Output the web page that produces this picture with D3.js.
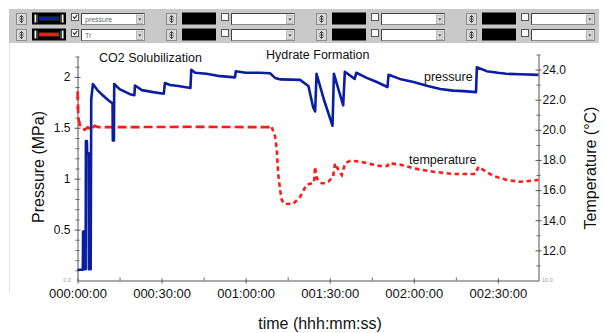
<!DOCTYPE html>
<html><head><meta charset="utf-8">
<script src="https://cdn.jsdelivr.net/npm/d3@7"></script>
<style>
html,body{margin:0;padding:0;background:#fff;}
svg{display:block;font-family:"Liberation Sans",Arial,sans-serif;}
</style></head><body>
<svg id="chart" width="605" height="333"></svg>
<script>
// Elapsed time in minutes and reactor pressure (MPa)
const pressureTime = [0,1.9,2.0,2.4,2.5,2.9,3.0,3.35,3.45,3.95,4.05,4.7,4.9,5.5,7.1,9,11,12.5,12.6,13.0,13.1,15,18.7,20.3,20.5,23,27,30.8,31.2,33,36,40.3,40.6,42,46,50,56.2,56.5,60,65,68.7,70.5,72.5,79.4,82.4,84.1,84.8,85.3,88,91,91.5,94.8,95.4,98.9,99.5,103.2,106.8,110.6,111,115,119.9,125,129.4,134,137.7,142.2,142.5,146,150,153,158,164.5];
const pressureMPa = [0.105,0.105,0.48,0.48,0.11,0.11,1.37,1.37,1.25,1.25,0.11,0.11,1.78,1.93,1.87,1.82,1.77,1.74,1.375,1.375,1.93,1.88,1.83,1.82,1.915,1.87,1.85,1.835,1.94,1.92,1.91,1.89,2.07,2.04,2.03,2.01,1.995,2.055,2.04,2.04,2.035,1.99,1.975,1.97,1.91,1.70,1.66,2.03,1.77,1.52,2.03,1.72,2.05,1.98,2.04,1.99,1.95,1.90,2.02,1.98,1.95,1.91,1.88,1.865,1.86,1.85,2.095,2.056,2.04,2.03,2.025,2.02];

// Elapsed time in minutes and reactor temperature (°C)
const temperatureTime = [0,0.15,0.3,1.0,2.6,3.7,4.9,6.1,7.5,20,40,60,69.3,70.5,71.1,71.6,72.3,72.9,74,77,79.4,80.5,81.5,83.6,84.4,84.75,85.4,87.1,88.5,89.5,91.2,91.9,93.4,94.3,95.5,97.3,100.8,104,108,110.6,111,115,120,127,134,141.9,143.1,144.9,148.4,153.2,158,164.5];
const temperatureC = [22.55,21.8,20.8,20.2,20.0,20.18,20.0,20.27,20.18,20.18,20.2,20.18,20.18,19.55,18.67,17.1,16.0,15.33,15.07,15.1,15.55,15.9,16.33,16.45,16.5,17.55,16.78,16.45,16.45,16.55,16.9,17.78,17.22,17.0,17.78,17.95,17.89,17.75,17.6,17.6,17.78,17.7,17.44,17.22,17.07,17.07,17.55,17.33,16.93,16.67,16.55,16.67];

const pressureTicks = [0.5, 1, 1.5, 2];
const pressureMinorTicks = [0.1,0.2,0.3,0.4,0.6,0.7,0.8,0.9,1.1,1.2,1.3,1.4,1.6,1.7,1.8,1.9,2.1,2.2];
const temperatureTicks = [12, 14, 16, 18, 20, 22, 24];
const temperatureMinorTicks = [11, 13, 15, 17, 19, 21, 23, 25];
const timeTicks = [0, 30, 60, 90, 120, 150];
const timeMinorTicks = [15, 45, 75, 105, 135, 165];
const timeTickLabels = ["000:00:00","000:30:00","001:00:00","001:30:00","002:00:00","002:30:00"];

// Trace selector strip: channel names and pen colours per slot
const channelNames = [["pressure","Tr"],["",""],["",""],["",""]];
const channelColors = [["#0b1ea0","#ff1a1a"],[null,null],[null,null],[null,null]];

const svg = d3.select("#chart");
svg.append("rect").attr("width",605).attr("height",333).attr("fill","#fff");

const x = d3.scaleLinear([0, 164.5], [77.5, 538.5]);
const yP = d3.scaleLinear([0, 2.2], [280.5, 56.5]);
const yT = d3.scaleLinear([10, 25], [280.5, 54.5]);

// ---------- selector strip ----------
const bar = svg.append("g");
bar.append("rect").attr("x",9).attr("y",9).attr("width",590).attr("height",34).attr("fill","#c9c9c9");
svg.append("line").attr("x1",9.5).attr("x2",9.5).attr("y1",43).attr("y2",293).attr("stroke","#e2e2e2");

channelNames.forEach((pair, g) => {
  pair.forEach((name, r) => {
    const gx = 150 * g, ry = 13 + 16 * r;
    const grp = bar.append("g").attr("transform", `translate(${gx},${ry})`);
    // spin button
    grp.append("rect").attr("x",16.5).attr("y",0.5).attr("width",10).attr("height",11)
      .attr("fill","#dadada").attr("stroke","#8c8c8c");
    grp.append("path").attr("d","M21.5,2.5V9.5M19.5,4.5L21.5,2.5L23.5,4.5M19.5,7.5L21.5,9.5L23.5,7.5M19.5,6H23.5")
      .attr("fill","none").attr("stroke","#333").attr("stroke-width",0.9);
    // pen swatch
    grp.append("rect").attr("x",32).attr("y",-0.5).attr("width",34).attr("height",12).attr("fill","#000");
    const col = channelColors[g][r];
    if (col) {
      grp.append("rect").attr("x",34.5).attr("y",1.5).attr("width",1.5).attr("height",8).attr("fill","#fff");
      grp.append("rect").attr("x",36.5).attr("y",1.5).attr("width",1).attr("height",8).attr("fill","#888");
      grp.append("rect").attr("x",39).attr("y",3.5).attr("width",20).attr("height",4).attr("fill",col).attr("stroke","#222").attr("stroke-width",0.6);
      grp.append("rect").attr("x",60.5).attr("y",1.5).attr("width",1).attr("height",8).attr("fill","#888");
      grp.append("rect").attr("x",62).attr("y",1.5).attr("width",1.5).attr("height",8).attr("fill","#fff");
    }
    // checkbox
    grp.append("rect").attr("x",71.5).attr("y",0.5).attr("width",7).attr("height",7)
      .attr("fill","#fff").attr("stroke","#555");
    if (name) {
      grp.append("path").attr("d","M73,3.5L74.6,5.5L77.2,1.8").attr("fill","none").attr("stroke","#222").attr("stroke-width",1.1);
    }
    // drop-down field
    grp.append("rect").attr("x",81.5).attr("y",0.5).attr("width",63).attr("height",11)
      .attr("fill","#fff").attr("stroke","#8a8a8a");
    grp.append("path").attr("d","M81.5,11.5V0.5H144.5").attr("fill","none").attr("stroke","#444");
    grp.append("rect").attr("x",136.5).attr("y",2).attr("width",6.5).attr("height",8.5)
      .attr("fill","#d8d8d8").attr("stroke","#999").attr("stroke-width",0.6);
    grp.append("path").attr("d","M138.3,5.5H141.3L139.8,7.5Z").attr("fill","#333");
    if (name) {
      grp.append("text").attr("x",85).attr("y",8.5).attr("font-size",7).attr("fill","#666").text(name);
    }
  });
});

// ---------- axes ----------
const ink = "#111";
function styleAxis(g, crossA, crossB, attr1, attr2) {
  g.select(".domain").attr("stroke","#555");
  g.selectAll(".tick line").attr("stroke","#555").attr(attr1, crossA).attr(attr2, crossB);
  g.selectAll(".tick text").attr("fill", ink);
}

// left: pressure
const gl = svg.append("g").attr("transform","translate(77.5,0)")
  .call(d3.axisLeft(yP).tickValues(pressureTicks).tickSize(3).tickSizeOuter(0).tickPadding(4)
    .tickFormat(d => String(d)))
  .attr("font-size",12).attr("font-family","Liberation Sans, Arial, sans-serif");
styleAxis(gl, 3, -3, "x1", "x2");
const glm = svg.append("g").attr("transform","translate(77.5,0)")
  .call(d3.axisLeft(yP).tickValues(pressureMinorTicks).tickSize(2).tickSizeOuter(0).tickFormat(""));
glm.select(".domain").remove();
glm.selectAll(".tick line").attr("stroke","#666").attr("x1",2);

// right: temperature
const gr = svg.append("g").attr("transform","translate(538.5,0)")
  .call(d3.axisRight(yT).tickValues(temperatureTicks).tickSize(3).tickSizeOuter(0).tickPadding(1)
    .tickFormat(d3.format(".1f")))
  .attr("font-size",12).attr("font-family","Liberation Sans, Arial, sans-serif");
styleAxis(gr, -3, 3, "x1", "x2");
const grm = svg.append("g").attr("transform","translate(538.5,0)")
  .call(d3.axisRight(yT).tickValues(temperatureMinorTicks).tickSize(2).tickSizeOuter(0).tickFormat(""));
grm.select(".domain").remove();
grm.selectAll(".tick line").attr("stroke","#666").attr("x1",-2);

// bottom: time
const gb = svg.append("g").attr("transform","translate(0,280.5)")
  .call(d3.axisBottom(x).tickValues(timeTicks).tickSize(3).tickSizeOuter(0).tickPadding(5)
    .tickFormat((d, i) => timeTickLabels[i]))
  .attr("font-size",13).attr("font-family","Liberation Sans, Arial, sans-serif");
styleAxis(gb, -2, 3, "y1", "y2");
const gbm = svg.append("g").attr("transform","translate(0,280.5)")
  .call(d3.axisBottom(x).tickValues(timeMinorTicks.filter(t => t <= 164.5)).tickSize(-3).tickSizeOuter(0).tickFormat(""));
gbm.select(".domain").remove();
gbm.selectAll(".tick line").attr("stroke","#666");

// faint zero labels at the foot of both value axes
svg.append("text").attr("x",yP.range()[0] ? 71 : 71).attr("y",yP(0)+1).attr("text-anchor","end")
  .attr("font-size",5.5).attr("fill","#999").text("0.0");
svg.append("text").attr("x",542).attr("y",yT(10)+1)
  .attr("font-size",5.5).attr("fill","#999").text("10.0");

// axis titles
svg.append("text").attr("transform","translate(44,167) rotate(-90)").attr("text-anchor","middle")
  .attr("font-size",16).attr("fill",ink).text("Pressure (MPa)");
svg.append("text").attr("transform","translate(596,168) rotate(-90)").attr("text-anchor","middle")
  .attr("font-size",16).attr("fill",ink).text("Temperature (°C)");
svg.append("text").attr("x",320).attr("y",329).attr("text-anchor","middle")
  .attr("font-size",16).attr("fill",ink).text("time (hhh:mm:ss)");

// ---------- series ----------
const tempRows = temperatureTime.map((t, i) => ({t, v: temperatureC[i]}));
const presRows = pressureTime.map((t, i) => ({t, v: pressureMPa[i]}));

const lineT = d3.line().x(d => x(d.t)).y(d => yT(d.v));
const lineP = d3.line().x(d => x(d.t)).y(d => yP(d.v));

// temperature: long dashes while steady, shorter dashes once hydrate forms
const steady = tempRows.filter(d => d.t <= 69.3);
const active = tempRows.filter(d => d.t >= 69.3);
svg.append("path").datum(steady).attr("d", lineT).attr("fill","none")
  .attr("stroke","#ff1a1a").attr("stroke-width",2.6).attr("stroke-dasharray","9,4");
svg.append("path").datum(active).attr("d", lineT).attr("fill","none")
  .attr("stroke","#ff1a1a").attr("stroke-width",2.6).attr("stroke-dasharray","4.5,3.5");

svg.append("path").datum(presRows).attr("d", lineP).attr("fill","none")
  .attr("stroke","#0b1ea0").attr("stroke-width",2.6).attr("stroke-linejoin","round");

// ---------- annotations ----------
const notes = [
  {text:"CO2 Solubilization", x:99, y:62},
  {text:"Hydrate Formation", x:266, y:58.5},
  {text:"pressure", x:424, y:81},
  {text:"temperature", x:409, y:164}
];
svg.selectAll("text.note").data(notes).join("text").attr("class","note")
  .attr("x", d => d.x).attr("y", d => d.y).attr("font-size",12.5).attr("fill",ink).text(d => d.text);
</script>
</body></html>
